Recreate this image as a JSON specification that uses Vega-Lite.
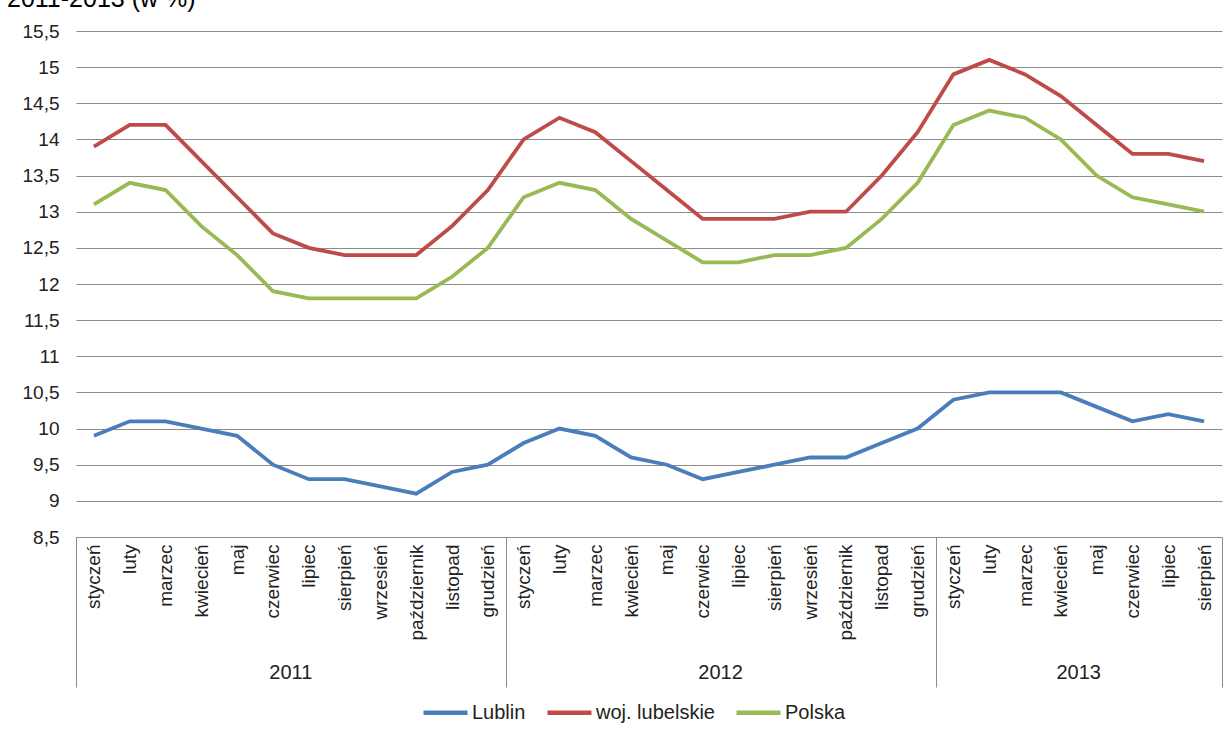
{
  "$schema": "https://vega.github.io/schema/vega-lite/v6.json",
  "width": 1146,
  "height": 506,
  "autosize": {"type": "none"},
  "padding": {"left": 76, "top": 31, "right": 10, "bottom": 199},
  "background": "white",
  "title": {
    "text": "2011-2013 (w %)",
    "anchor": "start",
    "frame": "group",
    "orient": "top",
    "fontSize": 25,
    "fontWeight": "normal",
    "font": "Liberation Sans",
    "color": "#000000",
    "dx": -69,
    "dy": 15,
    "offset": 0,
    "baseline": "bottom"
  },
  "config": {
    "font": "Liberation Sans",
    "view": {"stroke": null},
    "axis": {"labelFont": "Liberation Sans", "labelColor": "#222222", "labelFontSize": 19}
  },
  "data": {
    "values": [
      {"key": "2011-01 styczeń", "series": "Lublin", "value": 9.9},
      {"key": "2011-02 luty", "series": "Lublin", "value": 10.1},
      {"key": "2011-03 marzec", "series": "Lublin", "value": 10.1},
      {"key": "2011-04 kwiecień", "series": "Lublin", "value": 10.0},
      {"key": "2011-05 maj", "series": "Lublin", "value": 9.9},
      {"key": "2011-06 czerwiec", "series": "Lublin", "value": 9.5},
      {"key": "2011-07 lipiec", "series": "Lublin", "value": 9.3},
      {"key": "2011-08 sierpień", "series": "Lublin", "value": 9.3},
      {"key": "2011-09 wrzesień", "series": "Lublin", "value": 9.2},
      {"key": "2011-10 październik", "series": "Lublin", "value": 9.1},
      {"key": "2011-11 listopad", "series": "Lublin", "value": 9.4},
      {"key": "2011-12 grudzień", "series": "Lublin", "value": 9.5},
      {"key": "2012-01 styczeń", "series": "Lublin", "value": 9.8},
      {"key": "2012-02 luty", "series": "Lublin", "value": 10.0},
      {"key": "2012-03 marzec", "series": "Lublin", "value": 9.9},
      {"key": "2012-04 kwiecień", "series": "Lublin", "value": 9.6},
      {"key": "2012-05 maj", "series": "Lublin", "value": 9.5},
      {"key": "2012-06 czerwiec", "series": "Lublin", "value": 9.3},
      {"key": "2012-07 lipiec", "series": "Lublin", "value": 9.4},
      {"key": "2012-08 sierpień", "series": "Lublin", "value": 9.5},
      {"key": "2012-09 wrzesień", "series": "Lublin", "value": 9.6},
      {"key": "2012-10 październik", "series": "Lublin", "value": 9.6},
      {"key": "2012-11 listopad", "series": "Lublin", "value": 9.8},
      {"key": "2012-12 grudzień", "series": "Lublin", "value": 10.0},
      {"key": "2013-01 styczeń", "series": "Lublin", "value": 10.4},
      {"key": "2013-02 luty", "series": "Lublin", "value": 10.5},
      {"key": "2013-03 marzec", "series": "Lublin", "value": 10.5},
      {"key": "2013-04 kwiecień", "series": "Lublin", "value": 10.5},
      {"key": "2013-05 maj", "series": "Lublin", "value": 10.3},
      {"key": "2013-06 czerwiec", "series": "Lublin", "value": 10.1},
      {"key": "2013-07 lipiec", "series": "Lublin", "value": 10.2},
      {"key": "2013-08 sierpień", "series": "Lublin", "value": 10.1},
      {"key": "2011-01 styczeń", "series": "woj. lubelskie", "value": 13.9},
      {"key": "2011-02 luty", "series": "woj. lubelskie", "value": 14.2},
      {"key": "2011-03 marzec", "series": "woj. lubelskie", "value": 14.2},
      {"key": "2011-04 kwiecień", "series": "woj. lubelskie", "value": 13.7},
      {"key": "2011-05 maj", "series": "woj. lubelskie", "value": 13.2},
      {"key": "2011-06 czerwiec", "series": "woj. lubelskie", "value": 12.7},
      {"key": "2011-07 lipiec", "series": "woj. lubelskie", "value": 12.5},
      {"key": "2011-08 sierpień", "series": "woj. lubelskie", "value": 12.4},
      {"key": "2011-09 wrzesień", "series": "woj. lubelskie", "value": 12.4},
      {"key": "2011-10 październik", "series": "woj. lubelskie", "value": 12.4},
      {"key": "2011-11 listopad", "series": "woj. lubelskie", "value": 12.8},
      {"key": "2011-12 grudzień", "series": "woj. lubelskie", "value": 13.3},
      {"key": "2012-01 styczeń", "series": "woj. lubelskie", "value": 14.0},
      {"key": "2012-02 luty", "series": "woj. lubelskie", "value": 14.3},
      {"key": "2012-03 marzec", "series": "woj. lubelskie", "value": 14.1},
      {"key": "2012-04 kwiecień", "series": "woj. lubelskie", "value": 13.7},
      {"key": "2012-05 maj", "series": "woj. lubelskie", "value": 13.3},
      {"key": "2012-06 czerwiec", "series": "woj. lubelskie", "value": 12.9},
      {"key": "2012-07 lipiec", "series": "woj. lubelskie", "value": 12.9},
      {"key": "2012-08 sierpień", "series": "woj. lubelskie", "value": 12.9},
      {"key": "2012-09 wrzesień", "series": "woj. lubelskie", "value": 13.0},
      {"key": "2012-10 październik", "series": "woj. lubelskie", "value": 13.0},
      {"key": "2012-11 listopad", "series": "woj. lubelskie", "value": 13.5},
      {"key": "2012-12 grudzień", "series": "woj. lubelskie", "value": 14.1},
      {"key": "2013-01 styczeń", "series": "woj. lubelskie", "value": 14.9},
      {"key": "2013-02 luty", "series": "woj. lubelskie", "value": 15.1},
      {"key": "2013-03 marzec", "series": "woj. lubelskie", "value": 14.9},
      {"key": "2013-04 kwiecień", "series": "woj. lubelskie", "value": 14.6},
      {"key": "2013-05 maj", "series": "woj. lubelskie", "value": 14.2},
      {"key": "2013-06 czerwiec", "series": "woj. lubelskie", "value": 13.8},
      {"key": "2013-07 lipiec", "series": "woj. lubelskie", "value": 13.8},
      {"key": "2013-08 sierpień", "series": "woj. lubelskie", "value": 13.7},
      {"key": "2011-01 styczeń", "series": "Polska", "value": 13.1},
      {"key": "2011-02 luty", "series": "Polska", "value": 13.4},
      {"key": "2011-03 marzec", "series": "Polska", "value": 13.3},
      {"key": "2011-04 kwiecień", "series": "Polska", "value": 12.8},
      {"key": "2011-05 maj", "series": "Polska", "value": 12.4},
      {"key": "2011-06 czerwiec", "series": "Polska", "value": 11.9},
      {"key": "2011-07 lipiec", "series": "Polska", "value": 11.8},
      {"key": "2011-08 sierpień", "series": "Polska", "value": 11.8},
      {"key": "2011-09 wrzesień", "series": "Polska", "value": 11.8},
      {"key": "2011-10 październik", "series": "Polska", "value": 11.8},
      {"key": "2011-11 listopad", "series": "Polska", "value": 12.1},
      {"key": "2011-12 grudzień", "series": "Polska", "value": 12.5},
      {"key": "2012-01 styczeń", "series": "Polska", "value": 13.2},
      {"key": "2012-02 luty", "series": "Polska", "value": 13.4},
      {"key": "2012-03 marzec", "series": "Polska", "value": 13.3},
      {"key": "2012-04 kwiecień", "series": "Polska", "value": 12.9},
      {"key": "2012-05 maj", "series": "Polska", "value": 12.6},
      {"key": "2012-06 czerwiec", "series": "Polska", "value": 12.3},
      {"key": "2012-07 lipiec", "series": "Polska", "value": 12.3},
      {"key": "2012-08 sierpień", "series": "Polska", "value": 12.4},
      {"key": "2012-09 wrzesień", "series": "Polska", "value": 12.4},
      {"key": "2012-10 październik", "series": "Polska", "value": 12.5},
      {"key": "2012-11 listopad", "series": "Polska", "value": 12.9},
      {"key": "2012-12 grudzień", "series": "Polska", "value": 13.4},
      {"key": "2013-01 styczeń", "series": "Polska", "value": 14.2},
      {"key": "2013-02 luty", "series": "Polska", "value": 14.4},
      {"key": "2013-03 marzec", "series": "Polska", "value": 14.3},
      {"key": "2013-04 kwiecień", "series": "Polska", "value": 14.0},
      {"key": "2013-05 maj", "series": "Polska", "value": 13.5},
      {"key": "2013-06 czerwiec", "series": "Polska", "value": 13.2},
      {"key": "2013-07 lipiec", "series": "Polska", "value": 13.1},
      {"key": "2013-08 sierpień", "series": "Polska", "value": 13.0}
    ]
  },
  "layer": [
    {
      "mark": {"type": "line", "strokeWidth": 3.8},
      "encoding": {
        "x": {
          "field": "key",
          "type": "nominal",
          "sort": "ascending",
          "bandPosition": 0.5,
          "scale": {"type": "band", "paddingInner": 0, "paddingOuter": 0},
          "axis": {
            "title": null,
            "orient": "bottom",
            "labelAngle": -90,
            "labelAlign": "right",
            "labelBaseline": "middle",
            "labelPadding": -143,
            "labelFontSize": 19,
            "labelOverlap": false,
            "labelBound": false,
            "labelExpr": "datum.value ? substring(datum.value, 8) : ''",
            "tickBand": "extent",
            "tickSize": 150,
            "tickColor": "#8c8c8c",
            "tickWidth": 1,
            "tickOpacity": {
              "condition": {
                "test": "!datum.value || datum.value === '2011-12 grudzień' || datum.value === '2012-12 grudzień' || datum.value === '2013-08 sierpień'",
                "value": 1
              },
              "value": 0
            },
            "domainColor": "#8c8c8c",
            "domainWidth": 1,
            "grid": false
          }
        },
        "y": {
          "field": "value",
          "type": "quantitative",
          "scale": {"domain": [8.5, 15.5], "nice": false, "zero": false},
          "axis": {
            "title": null,
            "values": [8.5, 9, 9.5, 10, 10.5, 11, 11.5, 12, 12.5, 13, 13.5, 14, 14.5, 15, 15.5],
            "labelExpr": "replace(format(datum.value, '.1~f'), '.', ',')",
            "grid": true,
            "gridColor": "#8c8c8c",
            "gridWidth": 1,
            "domain": false,
            "ticks": false,
            "labelPadding": 17,
            "labelFontSize": 19
          }
        },
        "color": {
          "field": "series",
          "type": "nominal",
          "scale": {
            "domain": ["Lublin", "woj. lubelskie", "Polska"],
            "range": ["#4A7EBB", "#BE4B48", "#98B954"]
          },
          "legend": {
            "title": null,
            "orient": "none",
            "legendX": 345,
            "legendY": 657,
            "direction": "horizontal",
            "symbolType": "stroke",
            "symbolSize": 1936,
            "symbolStrokeWidth": 4.5,
            "labelFontSize": 20,
            "labelFont": "Liberation Sans",
            "labelColor": "#222222",
            "labelOffset": 2,
            "columnPadding": 12,
            "padding": 0
          }
        }
      }
    },
    {
      "mark": {"type": "point", "opacity": 0},
      "encoding": {
        "x": {
          "field": "key",
          "type": "nominal",
          "sort": "ascending",
          "scale": {"type": "band", "paddingInner": 0, "paddingOuter": 0},
          "axis": {
            "title": null,
            "orient": "bottom",
            "domain": false,
            "ticks": false,
            "grid": false,
            "labelAngle": 0,
            "labelAlign": "center",
            "labelBaseline": "top",
            "labelPadding": 125,
            "labelFontSize": 20,
            "labelOffset": 17.9,
            "labelOverlap": false,
            "labelBound": false,
            "labelExpr": "datum.value === '2011-06 czerwiec' ? '2011' : datum.value === '2012-06 czerwiec' ? '2012' : datum.value === '2013-04 kwiecień' ? '2013' : ''"
          }
        }
      }
    }
  ],
  "resolve": {"axis": {"x": "independent"}}
}
